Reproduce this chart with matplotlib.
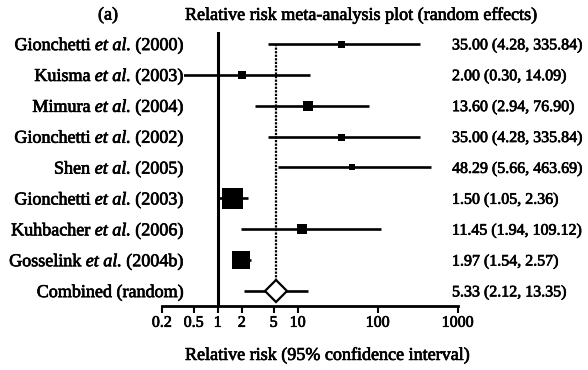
import matplotlib
matplotlib.use("Agg")
import matplotlib.pyplot as plt
from matplotlib import transforms
from matplotlib.patches import Rectangle
import matplotlib.patheffects as pe

# ---- data ----
authors = ["Gionchetti", "Kuisma", "Mimura", "Gionchetti", "Shen",
           "Gionchetti", "Kuhbacher", "Gosselink"]
years = ["2000", "2003", "2004", "2002", "2005", "2003", "2006", "2004b"]
rr = [35.00, 2.00, 13.60, 35.00, 48.29, 1.50, 11.45, 1.97]
lo = [4.28, 0.30, 2.94, 4.28, 5.66, 1.05, 1.94, 1.54]
hi = [335.84, 14.09, 76.90, 335.84, 463.69, 2.36, 109.12, 2.57]
combined_label = "Combined (random)"
comb_rr, comb_lo, comb_hi = 5.33, 2.12, 13.35
tick_vals = [0.2, 0.5, 1, 2, 5, 10, 100, 1000]
tick_labels = ["0.2", "0.5", "1", "2", "5", "10", "100", "1000"]
title_left = "(a)"
title = "Relative risk meta-analysis plot (random effects)"
xlabel = "Relative risk (95% confidence interval)"

# ---- style ----
box_px = [7, 8, 10, 7, 6, 21, 10, 18]
FONT = "Liberation Serif"
FS = 13          # word text
FSN = 11.5       # numeric text
plt.rcParams["font.family"] = [FONT, "DejaVu Serif"]
HEAVY = [pe.withStroke(linewidth=0.5, foreground="black")]

W, H = 588, 370
fig = plt.figure(figsize=(W / 100, H / 100), dpi=100)
ax_left_px, ax_right_px = 161.8, 457.7
ax_top_px, ax_bot_px = 31.6, 306.4
ax = fig.add_axes([ax_left_px / W, 1 - ax_bot_px / H,
                   (ax_right_px - ax_left_px) / W, (ax_bot_px - ax_top_px) / H])
ax.set_xscale("log")
ax.set_xlim(tick_vals[0], tick_vals[-1])
n = len(rr)
ax.set_ylim(n + 0.5, -0.4)
for s in ["top", "right", "left"]:
    ax.spines[s].set_visible(False)
ax.spines["bottom"].set_linewidth(2)
ax.set_yticks([])
ax.set_xticks(tick_vals)
ax.set_xticklabels(tick_labels, fontsize=FSN)
for tl in ax.get_xticklabels():
    tl.set_path_effects(HEAVY)
ax.minorticks_off()
ax.tick_params(axis="x", direction="out", length=5, width=1.5, pad=1)

# clip region for CI lines (starts just right of labels)
clip_rect = Rectangle((184 / W, 0), 1, 1, transform=fig.transFigure)

# vertical reference line at 1
ax.axvline(1, color="black", lw=2.2, zorder=1)

# dashed line at combined estimate
diamond_half = 0.32
ax.plot([comb_rr, comb_rr], [0, n - diamond_half], color="black", lw=1.6,
        linestyle=(0, (1.0, 0.6)), zorder=1)

for i in range(n):
    ln, = ax.plot([lo[i], hi[i]], [i, i], color="black", lw=1.9,
                  solid_capstyle="butt", zorder=2, clip_on=True)
    ln.set_clip_path(clip_rect)
    ax.plot([rr[i]], [i], marker="s", color="black",
            markersize=box_px[i] * 0.72, markeredgewidth=0, zorder=3)

ax.plot([comb_lo, comb_hi], [n, n], color="black", lw=1.9,
        solid_capstyle="butt", zorder=2)
ax.plot([comb_rr], [n], marker="D", markersize=20 * 0.72 / 1.3,
        markerfacecolor="white", markeredgecolor="black",
        markeredgewidth=1.6, zorder=4)

# texts
renderer = fig.canvas.get_renderer()
base_tr = transforms.blended_transform_factory(fig.transFigure, ax.transData)
lab_tr = transforms.offset_copy(base_tr, fig=fig, y=-FS * 0.34, units="points")
num_tr = transforms.offset_copy(base_tr, fig=fig, y=-FSN * 0.34, units="points")
right_px = 183


def text_w(s, style="normal"):
    t = fig.text(0, 0, s, fontsize=FS, fontstyle=style)
    w = t.get_window_extent(renderer).width
    t.remove()
    return w


space_w = text_w("a a") - text_w("aa")


def place_pieces(pieces, y):
    """pieces: list of (text, style) joined by spaces, right-aligned."""
    x = right_px
    for k, (txt, style) in enumerate(reversed(pieces)):
        t = fig.text(x / W, y, txt, transform=lab_tr, ha="right",
                     va="baseline", fontsize=FS, fontstyle=style,
                     path_effects=HEAVY)
        x -= t.get_window_extent(renderer).width + space_w


for i in range(n):
    place_pieces([(authors[i], "normal"), ("et al.", "italic"),
                  ("(" + years[i] + ")", "normal")], i)
    fig.text(452 / W, i, f"{rr[i]:.2f} ({lo[i]:.2f}, {hi[i]:.2f})",
             transform=num_tr, ha="left", va="baseline", fontsize=FSN,
             path_effects=HEAVY)
place_pieces([(combined_label, "normal")], n)
fig.text(452 / W, n, f"{comb_rr:.2f} ({comb_lo:.2f}, {comb_hi:.2f})",
         transform=num_tr, ha="left", va="baseline", fontsize=FSN,
         path_effects=HEAVY)

fig.text(108 / W, 1 - 15 / H, title_left, ha="center", va="center",
         fontsize=FS, path_effects=HEAVY)
fig.text(185 / W, 1 - 15 / H, title, ha="left", va="center", fontsize=FS,
         path_effects=HEAVY)
fig.text(185 / W, 1 - 355 / H, xlabel, ha="left", va="center", fontsize=FS,
         path_effects=HEAVY)

fig.savefig("out.png", dpi=100, facecolor="white")
